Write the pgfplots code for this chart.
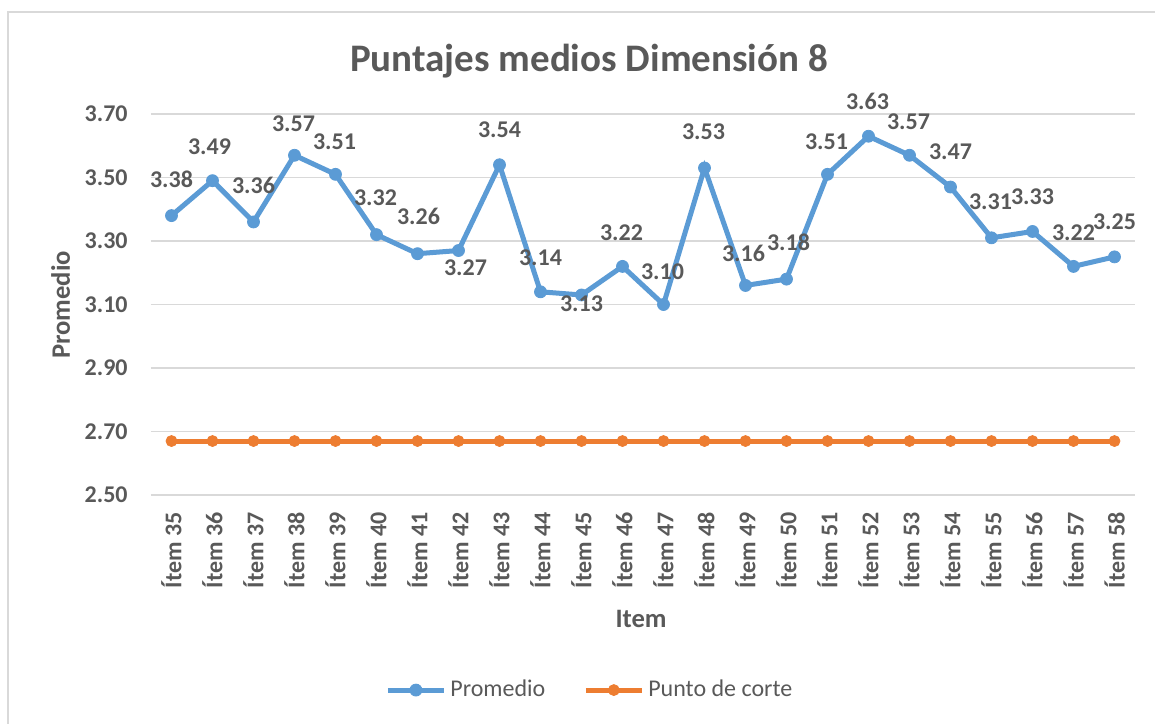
\documentclass[border=0pt]{standalone}
\usepackage{pgfplots}
\pgfplotsset{compat=1.18}
\usepackage{pgfplotstable}
\usepackage{fontspec}
\setmainfont{Carlito}
\definecolor{cblue}{HTML}{5B9BD5}
\definecolor{corange}{HTML}{ED7D31}
\definecolor{ctext}{HTML}{595959}
\definecolor{cgrid}{HTML}{D9D9D9}

\pgfplotstableread{
x y dx dy
0 3.38 0 18
1 3.49 -1.5 17
2 3.36 0 18.5
3 3.57 -0.5 16
4 3.51 -0.5 16.5
5 3.32 -0.5 18.5
6 3.26 0.5 18.5
7 3.27 3.5 -8.5
8 3.54 0 17.5
9 3.14 0 17
10 3.13 0 -4.5
11 3.22 -0.5 17
12 3.10 -0.5 16.5
13 3.53 -0.5 18
14 3.16 -1 16
15 3.18 1 18.5
16 3.51 -0.5 16.5
17 3.63 -0.5 17.5
18 3.57 -0.5 17
19 3.47 0 17.5
20 3.31 -0.5 18
21 3.33 0 17.5
22 3.22 0 17
23 3.25 0 17.5
}\prom

\pgfplotstableread{
x y
0 2.67
1 2.67
2 2.67
3 2.67
4 2.67
5 2.67
6 2.67
7 2.67
8 2.67
9 2.67
10 2.67
11 2.67
12 2.67
13 2.67
14 2.67
15 2.67
16 2.67
17 2.67
18 2.67
19 2.67
20 2.67
21 2.67
22 2.67
23 2.67
}\corte

\begin{document}
\begin{tikzpicture}
\begin{axis}[
  at={(0pt,0pt)}, anchor=south west,
  scale only axis, width=492pt, height=190.5pt,
  xmin=-0.5, xmax=23.5, ymin=2.5, ymax=3.7,
  clip=false,
  axis line style={draw=none},
  major tick length=0pt,
  ymajorgrids, grid style={cgrid, line width=0.75pt},
  ytick={2.5,2.7,2.9,3.1,3.3,3.5,3.7},
  /pgf/number format/fixed,
  /pgf/number format/fixed zerofill,
  /pgf/number format/precision=2,
  /pgf/number format/assume math mode=true,
  yticklabel style={font=\bfseries\fontsize{12}{14}\selectfont, text=ctext, inner sep=0pt, xshift=-11.5pt},
  xtick={0,...,23},
  xticklabels={Ítem 35,Ítem 36,Ítem 37,Ítem 38,Ítem 39,Ítem 40,Ítem 41,Ítem 42,Ítem 43,Ítem 44,Ítem 45,Ítem 46,Ítem 47,Ítem 48,Ítem 49,Ítem 50,Ítem 51,Ítem 52,Ítem 53,Ítem 54,Ítem 55,Ítem 56,Ítem 57,Ítem 58},
  xticklabel style={font=\bfseries\fontsize{12}{14}\selectfont, text=ctext, inner sep=0pt, yshift=-8.5pt, rotate=90, anchor=east},
  legend style={at={(0.447,-0.512)}, anchor=center, draw=none, fill=none, legend columns=2,
    font=\fontsize{12}{14}\selectfont, text=ctext,
    /tikz/every even column/.append style={column sep=17pt}},
  legend cell align=left,
  legend image code/.code={\draw[mark repeat=2,mark phase=2,#1] plot coordinates {(0pt,0pt) (14pt,0pt) (28pt,0pt)};},
]
\addplot[cblue, line width=2.5pt, mark=*, mark size=3pt,
  mark options={solid, fill=cblue, draw=cblue, line width=0.4pt},
  nodes near coords,
  visualization depends on={\thisrow{dx}\as\dx},
  visualization depends on={\thisrow{dy}\as\dy},
  every node near coord/.append style={anchor=center, xshift={\dx*1pt}, yshift={\dy*1pt},
    font=\bfseries\fontsize{12}{14}\selectfont, text=ctext, inner sep=0pt}]
  table[x=x,y=y]{\prom};
\addlegendentry{Promedio}
\addplot[corange, line width=2.5pt, mark=*, mark size=2.75pt,
  mark options={solid, fill=corange, draw=corange, line width=0.4pt}]
  table[x=x,y=y]{\corte};
\addlegendentry{Punto de corte}
\end{axis}
\begin{scope}[x=0.5pt, y=-0.5pt, shift={(-75.5pt,247.5pt)}]
  \path[use as bounding box] (0,0) rectangle (1155,723);
  \draw[cgrid, line width=1pt] (8,730) -- (8,12) -- (1160,12);
  \node[anchor=base, text=ctext, font=\bfseries\fontsize{19.5}{23}\selectfont, inner sep=0pt] at (589,72) {Puntajes medios Dimensión 8};
  \node[anchor=base, text=ctext, font=\bfseries\fontsize{13.3}{16}\selectfont, inner sep=0pt] at (641,627) {Item};
  \node[anchor=base, rotate=90, text=ctext, font=\bfseries\fontsize{13.3}{16}\selectfont, inner sep=0pt] at (70,305) {Promedio};
\end{scope}
\end{tikzpicture}
\end{document}
